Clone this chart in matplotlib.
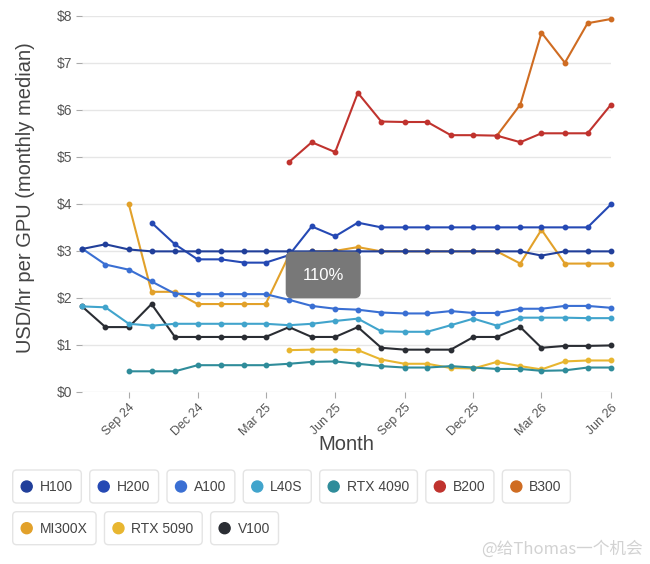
import numpy as np
import pandas as pd
import matplotlib
matplotlib.use("Agg")
import matplotlib.pyplot as plt
from matplotlib.patches import FancyBboxPatch, Circle
from matplotlib.ticker import StrMethodFormatter

plt.rcParams['font.family'] = ['Liberation Sans', 'DejaVu Sans']

nan = np.nan

# Monthly medians, Jul 2024 .. Jun 2026
months = pd.date_range('2024-07-01', periods=24, freq='MS')

h100 = [3.04, 3.14, 3.03, 2.99, 2.99, 2.99, 2.99, 2.99, 2.99, 2.99, 2.99, 2.99,
        2.99, 2.99, 2.99, 2.99, 2.99, 2.99, 2.99, 2.99, 2.90, 2.99, 2.99, 2.99]
h200 = [nan, nan, nan, 3.60, 3.14, 2.82, 2.82, 2.75, 2.75, 2.91, 3.52, 3.31,
        3.60, 3.50, 3.50, 3.50, 3.50, 3.50, 3.50, 3.50, 3.50, 3.50, 3.50, 3.99]
a100 = [3.05, 2.71, 2.60, 2.35, 2.09, 2.08, 2.08, 2.08, 2.08, 1.96, 1.83, 1.77,
        1.75, 1.69, 1.67, 1.67, 1.72, 1.68, 1.68, 1.77, 1.77, 1.83, 1.83, 1.79]
l40s = [1.82, 1.80, 1.45, 1.41, 1.45, 1.45, 1.45, 1.45, 1.45, 1.42, 1.45, 1.51,
        1.56, 1.29, 1.28, 1.28, 1.42, 1.56, 1.41, 1.58, 1.58, 1.58, 1.57, 1.57]
rtx4090 = [nan, nan, 0.44, 0.44, 0.44, 0.57, 0.57, 0.57, 0.57, 0.60, 0.64, 0.65,
           0.60, 0.55, 0.52, 0.52, 0.55, 0.52, 0.49, 0.49, 0.45, 0.46, 0.52, 0.52]
b200 = [nan, nan, nan, nan, nan, nan, nan, nan, nan, 4.89, 5.31, 5.10,
        6.36, 5.75, 5.74, 5.74, 5.46, 5.46, 5.45, 5.31, 5.50, 5.50, 5.50, 6.11]
b300 = [nan, nan, nan, nan, nan, nan, nan, nan, nan, nan, nan, nan,
        nan, nan, nan, nan, nan, nan, 5.45, 6.11, 7.64, 7.00, 7.84, 7.93]
mi300x = [nan, nan, 3.99, 2.13, 2.13, 1.87, 1.87, 1.87, 1.87, 2.91, 2.99, 3.00,
          3.08, 2.99, 2.99, 2.99, 2.99, 2.99, 2.99, 2.73, 3.45, 2.73, 2.73, 2.73]
rtx5090 = [nan, nan, nan, nan, nan, nan, nan, nan, nan, 0.89, 0.90, 0.90,
           0.89, 0.69, 0.60, 0.60, 0.51, 0.50, 0.64, 0.55, 0.48, 0.65, 0.67, 0.67]
v100 = [1.82, 1.38, 1.38, 1.87, 1.17, 1.17, 1.17, 1.17, 1.17, 1.38, 1.17, 1.17,
        1.38, 0.94, 0.90, 0.90, 0.90, 1.17, 1.17, 1.38, 0.94, 0.98, 0.98, 0.99]

names = ['H100', 'H200', 'A100', 'L40S', 'RTX 4090', 'B200', 'B300',
         'MI300X', 'RTX 5090', 'V100']
series = [h100, h200, a100, l40s, rtx4090, b200, b300, mi300x, rtx5090, v100]
colors = ['#213f9a', '#2549b4', '#3a6fd3', '#41a4cc', '#2f8c9a', '#c0332e',
          '#cf6c22', '#e2a12a', '#e8b630', '#2a2d33']

tick_dates = pd.to_datetime(['2024-09-01', '2024-12-01', '2025-03-01', '2025-06-01',
                             '2025-09-01', '2025-12-01', '2026-03-01', '2026-06-01'])
tick_labels = ['Sep 24', 'Dec 24', 'Mar 25', 'Jun 25', 'Sep 25', 'Dec 25', 'Mar 26', 'Jun 26']

fig = plt.figure(figsize=(6.5, 5.64), dpi=100)
fig.patch.set_facecolor('white')
ax = fig.add_axes([82 / 650, 172 / 564, 529 / 650, 376.3 / 564])

# draw in reverse so H100 sits on top
for vals, col in reversed(list(zip(series, colors))):
    ax.plot(months, vals, color=col, lw=1.5, marker='o', ms=3.2, clip_on=False)

ax.set_xlim(months[0], months[-1])
ax.set_ylim(0, 8)
ax.set_yticks(range(0, 9))
ax.yaxis.set_major_formatter(StrMethodFormatter('${x:.0f}'))
ax.set_xticks(tick_dates)
ax.set_xticklabels(tick_labels, rotation=45, ha='right', rotation_mode='anchor')
ax.tick_params(axis='both', length=4, width=0.8, color='#aaaaaa', labelcolor='#555555', pad=3)
ax.tick_params(axis='y', labelsize=10)
ax.tick_params(axis='x', labelsize=9)
for s in ax.spines.values():
    s.set_visible(False)
ax.grid(axis='y', color='#e6e6e6', lw=1)
ax.set_axisbelow(True)

ax.set_xlabel('Month', fontsize=14.5, color='#444444')
ax.xaxis.set_label_coords(0.5, -0.114)
ax.set_ylabel('USD/hr per GPU (monthly median)', fontsize=14.5, color='#444444')
ax.yaxis.set_label_coords(-0.088, 0.516)

# overlay in pixel units for the legend chips and screenshot bits
ov = fig.add_axes([0, 0, 1, 1])
ov.set_xlim(0, 650)
ov.set_ylim(564, 0)
ov.axis('off')

r = fig.canvas.get_renderer()
x0, y0 = 12.7, 470
bx, by = x0, y0
box_h, gap = 33, 8.4
for name, col in zip(names, colors):
    t = ov.text(0, 0, name, fontsize=10, color='#444444', va='center')
    tw = t.get_window_extent(r).width
    w = 27 + tw + 8.5
    if bx + w > 630:
        bx = x0
        by += box_h + 8.7
    ov.add_patch(FancyBboxPatch((bx, by), w, box_h, boxstyle='round,pad=0,rounding_size=4',
                                fc='white', ec='#e4e4e4', lw=1))
    ov.add_patch(Circle((bx + 14, by + box_h / 2), 5.5, color=col))
    t.set_position((bx + 27, by + box_h / 2 + 0.5))
    bx += w + gap

# zoom indicator from the screenshot
ov.add_patch(FancyBboxPatch((285.7, 251.7), 75, 46.6, boxstyle='round,pad=0,rounding_size=6',
                            fc='#787878', ec='none'))
ov.text(323.5, 275, '110%', fontsize=12, color='white', ha='center', va='center')

ov.text(643, 549, '@给Thomas一个机会', fontsize=12, color='#d2d2d2', ha='right', va='center',
        family=['Noto Sans CJK SC', 'DejaVu Sans'])

fig.savefig('out.png', dpi=100)
